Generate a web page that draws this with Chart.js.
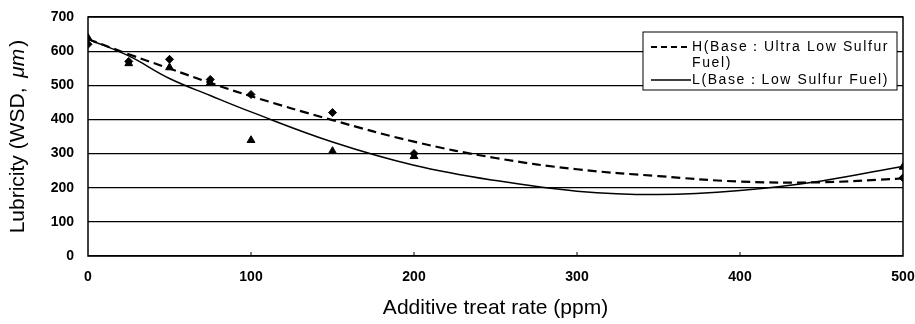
<!DOCTYPE html>
<html>
<head>
<meta charset="utf-8">
<script src="https://cdn.jsdelivr.net/npm/chart.js@4"></script>
<style>
  html, body { margin: 0; padding: 0; background: #fff; }
  #wrap { width: 915px; height: 324px; position: relative; }
</style>
</head>
<body>
<div id="wrap"><canvas id="chart" width="915" height="324"></canvas></div>
<script>
// Messpunkte (ppm / WSD in µm)
const treatRate = [0, 25, 50, 75, 100, 150, 200, 500];
const hMeasured = [620, 570, 576, 517, 473, 420, 300, 229];
const lMeasured = [639, 564, 552, 507, 339, 307, 292, 261];

// Trendlinien
const curveRate = [0, 25, 50, 75, 100, 150, 200, 250, 300, 350, 400, 450, 500];
const hTrend = [635, 591, 549, 507, 468, 398, 335, 287, 254, 234, 218, 216, 227];
const lTrend = [635, 586, 520, 470, 422, 334, 266, 221, 190, 180, 192, 220, 263];

const xTicks = [0, 100, 200, 300, 400, 500];
const yTicks = [0, 100, 200, 300, 400, 500, 600, 700];

const legendLines = [
    { dash: [6, 4], texts: ['H(Base\uFF1AUltra Low Sulfur', 'Fuel)'] },
    { dash: [], texts: ['L(Base\uFF1ALow Sulfur Fuel)'] }
];

const FONT = '"Liberation Sans", Arial, sans-serif';

function toPoints(xs, ys) {
    return xs.map((x, i) => ({ x: x, y: ys[i] }));
}

// Rahmen, Achsentitel und Legende von Hand zeichnen
const decorPlugin = {
    id: 'decor',
    afterDraw(chart) {
        const ctx = chart.ctx;
        const area = chart.chartArea;
        ctx.save();

        // Rahmen um die Plotfläche
        ctx.strokeStyle = '#000';
        ctx.lineWidth = 1.5;
        ctx.strokeRect(area.left, area.top, area.right - area.left, area.bottom - area.top);

        // kleine Striche an der x-Achse
        ctx.lineWidth = 1;
        xTicks.slice(1, -1).forEach(v => {
            const px = chart.scales.x.getPixelForValue(v);
            ctx.beginPath();
            ctx.moveTo(px, area.bottom);
            ctx.lineTo(px, area.bottom - 4);
            ctx.stroke();
        });

        // x-Achsentitel
        ctx.fillStyle = '#000';
        ctx.font = '21px ' + FONT;
        ctx.textAlign = 'center';
        ctx.textBaseline = 'alphabetic';
        ctx.fillText('Additive treat rate (ppm)', (area.left + area.right) / 2, 314);

        // y-Achsentitel mit kursivem µm
        const partA = 'Lubricity (WSD, ';
        const partB = '\u03BCm';
        const partC = ')';
        ctx.translate(24, (area.top + area.bottom) / 2);
        ctx.rotate(-Math.PI / 2);
        ctx.font = '21px ' + FONT;
        const wA = ctx.measureText(partA).width;
        const wC = ctx.measureText(partC).width;
        ctx.font = 'italic 21px ' + FONT;
        const wB = ctx.measureText(partB).width;
        const start = -(wA + wB + wC + 6) / 2;
        ctx.textAlign = 'left';
        ctx.font = '21px ' + FONT;
        ctx.fillText(partA, start, 0);
        ctx.font = 'italic 21px ' + FONT;
        ctx.fillText(partB, start + wA + 4, 0);
        ctx.font = '21px ' + FONT;
        ctx.fillText(partC, start + wA + wB + 6, 0);
        ctx.setTransform(1, 0, 0, 1, 0, 0);

        // Legende
        const box = { x: 643, y: 32, w: 254, h: 58 };
        ctx.fillStyle = '#fff';
        ctx.fillRect(box.x, box.y, box.w, box.h);
        ctx.strokeStyle = '#000';
        ctx.lineWidth = 1;
        ctx.strokeRect(box.x, box.y, box.w, box.h);

        ctx.font = '14px ' + FONT;
        ctx.letterSpacing = '1.6px';
        ctx.textAlign = 'left';
        ctx.textBaseline = 'middle';
        let y = box.y + 15;
        legendLines.forEach(item => {
            ctx.beginPath();
            ctx.setLineDash(item.dash);
            ctx.lineWidth = item.dash.length ? 2 : 1.5;
            ctx.moveTo(box.x + 8, y);
            ctx.lineTo(box.x + 48, y);
            ctx.stroke();
            ctx.setLineDash([]);
            ctx.fillStyle = '#000';
            item.texts.forEach(t => {
                ctx.fillText(t, box.x + 49, y);
                y += 16.5;
            });
        });

        ctx.restore();
    }
};

const ctx = document.getElementById('chart').getContext('2d');

new Chart(ctx, {
    type: 'scatter',
    data: {
        datasets: [
            {
                label: 'H Messwerte',
                data: toPoints(treatRate, hMeasured),
                pointStyle: 'rectRot',
                pointRadius: 4,
                backgroundColor: '#000',
                borderColor: '#000',
                showLine: false
            },
            {
                label: 'L Messwerte',
                data: toPoints(treatRate, lMeasured),
                pointStyle: 'triangle',
                pointRadius: 4.5,
                backgroundColor: '#000',
                borderColor: '#000',
                showLine: false
            },
            {
                label: 'H(Base: Ultra Low Sulfur Fuel)',
                data: toPoints(curveRate, hTrend),
                showLine: true,
                borderColor: '#000',
                borderWidth: 2.2,
                borderDash: [9, 5],
                pointRadius: 0,
                tension: 0.4,
                fill: false
            },
            {
                label: 'L(Base: Low Sulfur Fuel)',
                data: toPoints(curveRate, lTrend),
                showLine: true,
                borderColor: '#000',
                borderWidth: 1.5,
                pointRadius: 0,
                tension: 0.4,
                fill: false
            }
        ]
    },
    options: {
        responsive: false,
        animation: false,
        devicePixelRatio: 1,
        layout: { padding: { top: 17, right: 12, left: 0, bottom: 0 } },
        plugins: {
            legend: { display: false },
            tooltip: { enabled: false }
        },
        scales: {
            x: {
                type: 'linear',
                min: 0,
                max: 500,
                afterBuildTicks: scale => { scale.ticks = xTicks.map(v => ({ value: v })); },
                afterFit: scale => {
                    scale.height = 68;
                    scale.paddingLeft = 0;
                    scale.paddingRight = 0;
                },
                grid: { display: false, drawTicks: false },
                border: { display: false },
                ticks: {
                    color: '#000',
                    padding: 13,
                    maxRotation: 0,
                    font: { family: FONT, size: 14, weight: 'bold' }
                }
            },
            y: {
                type: 'linear',
                min: 0,
                max: 700,
                afterBuildTicks: scale => { scale.ticks = yTicks.map(v => ({ value: v })); },
                afterFit: scale => {
                    scale.width = 88;
                    scale.paddingTop = 0;
                    scale.paddingBottom = 0;
                },
                grid: { color: '#000', lineWidth: 1.2, drawTicks: false },
                border: { display: false },
                ticks: {
                    color: '#000',
                    padding: 14,
                    font: { family: FONT, size: 14, weight: 'bold' }
                }
            }
        }
    },
    plugins: [decorPlugin]
});
</script>
</body>
</html>
